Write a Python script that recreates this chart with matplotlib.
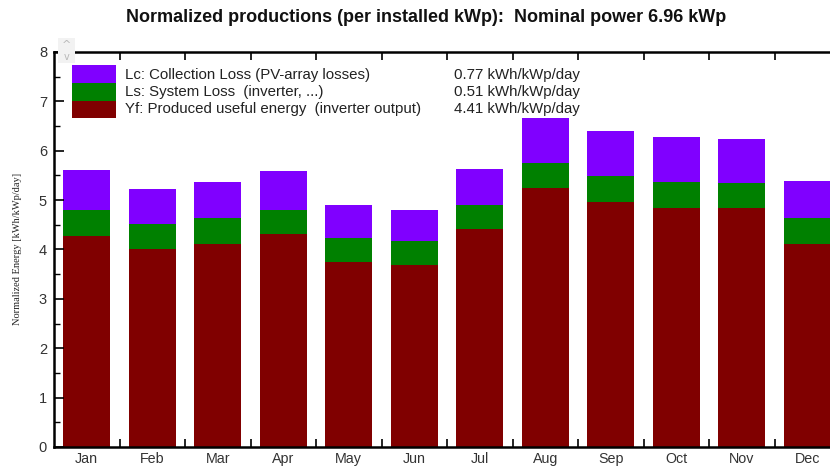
import matplotlib
matplotlib.use("Agg")
import matplotlib.pyplot as plt
from matplotlib.patches import Rectangle
from matplotlib.ticker import MultipleLocator, FixedLocator
import numpy as np

months = ["Jan", "Feb", "Mar", "Apr", "May", "Jun", "Jul", "Aug", "Sep", "Oct", "Nov", "Dec"]
yf = [4.27, 4.00, 4.12, 4.31, 3.75, 3.69, 4.42, 5.24, 4.96, 4.84, 4.84, 4.12]
ls = [0.54, 0.51, 0.51, 0.48, 0.48, 0.49, 0.48, 0.52, 0.52, 0.53, 0.51, 0.51]
lc = [0.79, 0.72, 0.74, 0.81, 0.68, 0.63, 0.73, 0.91, 0.92, 0.91, 0.88, 0.75]
legend_labels = ["Lc: Collection Loss (PV-array losses)",
                 "Ls: System Loss  (inverter, ...)",
                 "Yf: Produced useful energy  (inverter output)"]
legend_values = ["0.77 kWh/kWp/day", "0.51 kWh/kWp/day", "4.41 kWh/kWp/day"]
title = "Normalized productions (per installed kWp):  Nominal power 6.96 kWp"
ylabel = "Normalized Energy [kWh/kWp/day]"

C_LC = "#8000ff"
C_LS = "#008000"
C_YF = "#800000"

W, H = 830, 466
fig = plt.figure(figsize=(W / 100, H / 100), dpi=100)

def fx(x):
    return x / W

def fy(y):
    return 1 - y / H

left, right, top, bottom = 54, 840, 52, 447
ax = fig.add_axes([fx(left), fy(bottom), (right - left) / W, (bottom - top) / H])

x = np.arange(len(months)) + 0.5
bw = 0.72
yf_a = np.array(yf)
ls_a = np.array(ls)
lc_a = np.array(lc)
ax.bar(x, yf_a, bw, color=C_YF, linewidth=0)
ax.bar(x, ls_a, bw, bottom=yf_a, color=C_LS, linewidth=0)
ax.bar(x, lc_a, bw, bottom=yf_a + ls_a, color=C_LC, linewidth=0)

ax.set_xlim(0, 12)
ax.set_ylim(0, 8)

for s in ["left", "bottom", "top"]:
    ax.spines[s].set_linewidth(1.8)
    ax.spines[s].set_color("black")
ax.spines["right"].set_visible(False)

ax.yaxis.set_major_locator(MultipleLocator(1))
ax.yaxis.set_minor_locator(MultipleLocator(0.5))
ax.tick_params(axis="y", which="major", direction="in", length=7, width=1.2,
               labelsize=10.5, labelcolor="#333333", pad=5)
ax.tick_params(axis="y", which="minor", direction="in", length=4, width=1.0)
for lab in ax.get_yticklabels():
    lab.set_family(["Liberation Sans", "DejaVu Sans"])

ax.xaxis.set_major_locator(FixedLocator(np.arange(1, 12)))
ax.xaxis.set_minor_locator(FixedLocator(x))
ax.set_xticklabels([])
ax.set_xticklabels(months, minor=True)
ax.tick_params(axis="x", which="major", direction="in", length=6, width=1.2,
               top=True, bottom=True)
ax.tick_params(axis="x", which="minor", length=0, labelsize=10.3,
               labelcolor="#333333", pad=3.5)
for lab in ax.get_xticklabels(minor=True):
    lab.set_family(["Liberation Sans", "DejaVu Sans"])

fig.text(fx(18), fy(249), ylabel, rotation=90, ha="center", va="center",
         fontsize=7.5, family=["Liberation Serif", "DejaVu Serif"], color="#222222")

fig.text(fx(426), fy(18), title, ha="center", va="center", fontsize=13,
         fontweight="bold", family=["Liberation Sans Narrow", "Liberation Sans", "DejaVu Sans"],
         color="#111111")

# legend
colors = [C_LC, C_LS, C_YF]
edges = [65, 83, 101, 118]
for i, c in enumerate(colors):
    fig.patches.append(Rectangle((fx(72), fy(edges[i + 1])), (116 - 72) / W,
                                 (edges[i + 1] - edges[i]) / H,
                                 transform=fig.transFigure, color=c, linewidth=0, zorder=5))
for i, (lab, val) in enumerate(zip(legend_labels, legend_values)):
    yy = 75 + 17 * i
    fig.text(fx(125), fy(yy), lab, ha="left", va="center", fontsize=10.8,
             family=["Liberation Sans", "DejaVu Sans"], color="#222222", zorder=6)
    fig.text(fx(580), fy(yy), val, ha="right", va="center", fontsize=10.8,
             family=["Liberation Sans", "DejaVu Sans"], color="#222222", zorder=6)

# small scroll arrows at top-left
fig.patches.append(Rectangle((fx(58), fy(63)), 17 / W, 25 / H, transform=fig.transFigure,
                             color="#f2f2f2", linewidth=0, zorder=4))
fig.text(fx(66.5), fy(45), "^", ha="center", va="center", fontsize=8, color="#b8b8b8", zorder=5)
fig.text(fx(66.5), fy(57), "v", ha="center", va="center", fontsize=7, color="#b8b8b8", zorder=5)

fig.savefig("out.png", dpi=100)
